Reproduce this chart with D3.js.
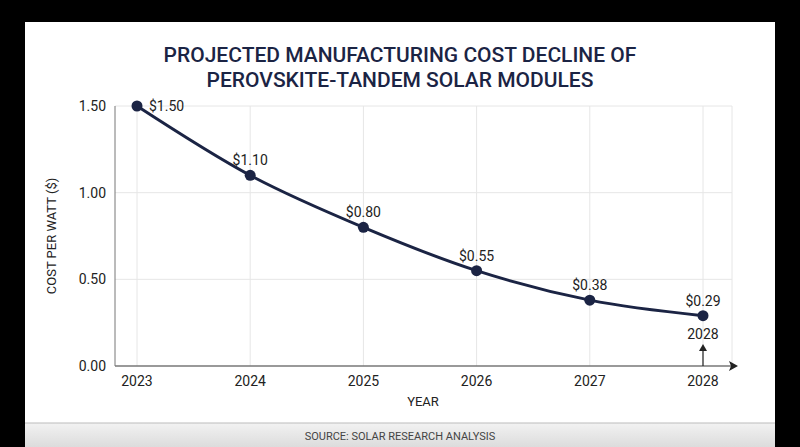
<!DOCTYPE html>
<html><head><meta charset="utf-8">
<script src="https://cdn.jsdelivr.net/npm/d3@7"></script>
<style>body{margin:0;background:#000;}svg{display:block;font-family:Roboto,"Open Sans",sans-serif;}</style>
</head><body><svg id="c" width="800" height="447"></svg>
<script>
const years = [2023, 2024, 2025, 2026, 2027, 2028];
const costs = [1.50, 1.10, 0.80, 0.55, 0.38, 0.29];
const yTicks = [0, 0.5, 1.0, 1.5];
const navy = "#1b2444";
const svg = d3.select("#c");
svg.append("rect").attr("width",800).attr("height",447).attr("fill","#000");
svg.append("rect").attr("x",25).attr("y",22).attr("width",750).attr("height",425).attr("fill","#fff");
const grad = svg.append("defs").append("linearGradient").attr("id","g").attr("x1",0).attr("y1",0).attr("x2",0).attr("y2",1);
grad.append("stop").attr("offset",0).attr("stop-color","#f2f2f2");
grad.append("stop").attr("offset",1).attr("stop-color","#dcdcdc");
svg.append("rect").attr("x",25).attr("y",423).attr("width",750).attr("height",24).attr("fill","url(#g)");
svg.append("line").attr("x1",25).attr("x2",775).attr("y1",423).attr("y2",423).attr("stroke","#bbb");
svg.append("text").attr("x",400).attr("y",440).attr("text-anchor","middle").attr("font-size",11).attr("fill","#444").text("SOURCE: SOLAR RESEARCH ANALYSIS");
svg.append("text").attr("x",400).attr("y",62).attr("text-anchor","middle").attr("font-size",21).attr("font-weight",500).attr("fill",navy).text("PROJECTED MANUFACTURING COST DECLINE OF");
svg.append("text").attr("x",400).attr("y",87).attr("text-anchor","middle").attr("font-size",21).attr("font-weight",500).attr("fill",navy).text("PEROVSKITE-TANDEM SOLAR MODULES");
const x = d3.scalePoint().domain(years).range([137,703]);
const y = d3.scaleLinear().domain([0,1.5]).range([366,106]);
// grid
years.forEach(v=>svg.append("line").attr("x1",x(v)).attr("x2",x(v)).attr("y1",106).attr("y2",366).attr("stroke","#e6e6e6"));
svg.append("line").attr("x1",732).attr("x2",732).attr("y1",106).attr("y2",366).attr("stroke","#e6e6e6");
yTicks.filter(v=>v>0).forEach(v=>svg.append("line").attr("x1",115).attr("x2",732).attr("y1",y(v)).attr("y2",y(v)).attr("stroke","#e6e6e6"));
// axes
svg.append("line").attr("x1",115).attr("x2",115).attr("y1",106).attr("y2",366).attr("stroke","#777");
svg.append("line").attr("x1",115).attr("x2",732).attr("y1",366).attr("y2",366).attr("stroke","#777").attr("stroke-width",1.5);
svg.append("path").attr("d","M738,366 L729,361 L731,366 L729,371 Z").attr("fill","#222");
yTicks.forEach(v=>svg.append("text").attr("x",106).attr("y",y(v)+5).attr("text-anchor","end").attr("font-size",14).attr("fill","#222").text(v.toFixed(2)));
years.forEach(v=>svg.append("text").attr("x",x(v)).attr("y",386).attr("text-anchor","middle").attr("font-size",14).attr("fill","#222").text(v));
svg.append("text").attr("x",423).attr("y",406).attr("text-anchor","middle").attr("font-size",13).attr("fill","#222").text("YEAR");
svg.append("text").attr("transform","translate(56,236) rotate(-90)").attr("text-anchor","middle").attr("font-size",13).attr("fill","#222").text("COST PER WATT ($)");
// line
const data = years.map((v,i)=>({year:v,cost:costs[i]}));
svg.append("path").datum(data).attr("fill","none").attr("stroke",navy).attr("stroke-width",3)
  .attr("d",d3.line().x(d=>x(d.year)).y(d=>y(d.cost)).curve(d3.curveMonotoneX));
svg.selectAll("circle.p").data(data).join("circle").attr("cx",d=>x(d.year)).attr("cy",d=>y(d.cost)).attr("r",5.5).attr("fill",navy);
svg.selectAll("text.l").data(data).join("text").attr("font-size",14).attr("fill","#222")
  .attr("x",(d,i)=>i===0?x(d.year)+12:x(d.year)).attr("y",(d,i)=>i===0?y(d.cost)+5:y(d.cost)-10)
  .attr("text-anchor",(d,i)=>i===0?"start":"middle").text(d=>"$"+d.cost.toFixed(2));
// annotation
const last = data[data.length-1];
svg.append("text").attr("x",x(last.year)).attr("y",339).attr("text-anchor","middle").attr("font-size",14).attr("fill","#222").text(last.year);
svg.append("line").attr("x1",x(last.year)).attr("x2",x(last.year)).attr("y1",366).attr("y2",349).attr("stroke","#222").attr("stroke-width",1.2);
svg.append("path").attr("d",`M${x(last.year)},344 L${x(last.year)-4},351 L${x(last.year)+4},351 Z`).attr("fill","#222");
</script></body></html>
